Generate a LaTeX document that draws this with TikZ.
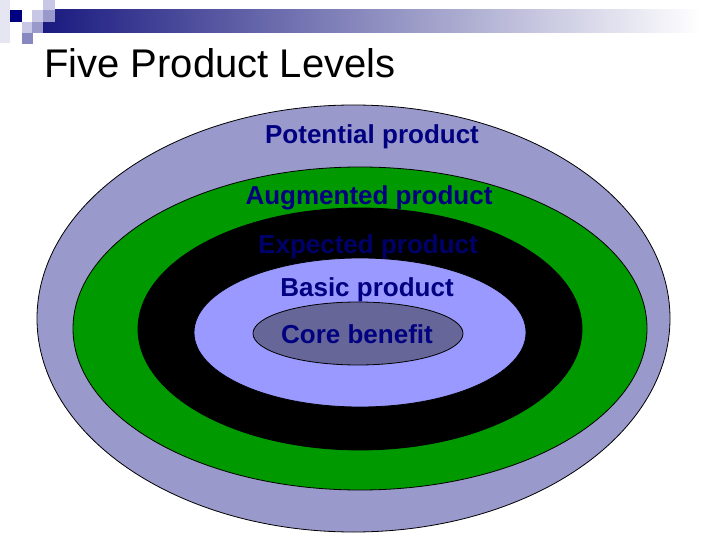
\documentclass[tikz,border=0pt]{standalone}
\usepackage{fontspec}
\setmainfont{Liberation Sans}
\usepackage{tikz}
\usetikzlibrary{shapes.geometric,shadings}
\definecolor{lvlNavy}{HTML}{000080}
\definecolor{lvlDeep}{HTML}{00006B}
\definecolor{lvlBar}{HTML}{1A1A80}
\definecolor{lvlBarMid}{HTML}{9494B4}
\definecolor{lvlFaint}{HTML}{E6E6F2}
\definecolor{lvlLight}{HTML}{C8C8E6}
\definecolor{lvlMid}{HTML}{9999CC}
\definecolor{lvlDim}{HTML}{8888C0}
\definecolor{lvlLavender}{HTML}{9999CC}
\definecolor{lvlGreen}{HTML}{009900}
\definecolor{lvlBlue}{HTML}{9999FF}
\definecolor{lvlCore}{HTML}{666699}

\begin{document}
\begin{tikzpicture}[x=1pt, y=-1pt,
  level/.style={ellipse, draw=black, line width=0.8pt, inner sep=0pt},
  levellabel/.style={font=\fontsize{26}{30}\selectfont\bfseries, text=lvlNavy, anchor=base, inner sep=0pt}]
  \useasboundingbox (0,0) rectangle (720,540);
  \fill[white] (0,0) rectangle (720,540);
  % header bar and squares
  \fill[lvlFaint] (0,0) rectangle (10,43);
  \shade[left color=lvlBar, middle color=lvlBarMid, right color=white] (43,10) rectangle (700,33);
  \fill[lvlNavy] (10,10) rectangle (22,22);
  \fill[lvlLight] (32,10) rectangle (43,22);
  \fill[lvlLight] (43,0) rectangle (55,10);
  \fill[lvlMid] (43,10) rectangle (55,22);
  \fill[lvlLight] (22,22) rectangle (32,33);
  \fill[lvlMid] (32,22) rectangle (43,33);
  \fill[lvlDim] (22,33) rectangle (33,44);
  \node[font=\fontsize{40}{48}\selectfont, anchor=base west, inner sep=0pt] (title) at (44,78) {Five Product Levels};
  % nested levels
  \node[level, fill=lvlLavender, minimum width=633pt, minimum height=427pt] (potential) at (353.5,318.5) {};
  \node[level, fill=lvlGreen, minimum width=574pt, minimum height=323pt] (augmented) at (360,328.5) {};
  \node[level, fill=black, minimum width=444pt, minimum height=242pt] (expected) at (360,329) {};
  \node[level, fill=lvlBlue, minimum width=332pt, minimum height=149pt] (basic) at (360,332.5) {};
  \node[level, fill=lvlCore, minimum width=210pt, minimum height=63pt] (core) at (358,333.5) {};
  % labels
  \node[levellabel] (potentiallabel) at (372,144) {Potential product};
  \node[levellabel] (augmentedlabel) at (369,205) {Augmented product};
  \node[levellabel, text=lvlDeep] (expectedlabel) at (368,253) {Expected product};
  \node[levellabel] (basiclabel) at (367,296) {Basic product};
  \node[levellabel] (corelabel) at (357,343) {Core benefit};
\end{tikzpicture}
\end{document}
